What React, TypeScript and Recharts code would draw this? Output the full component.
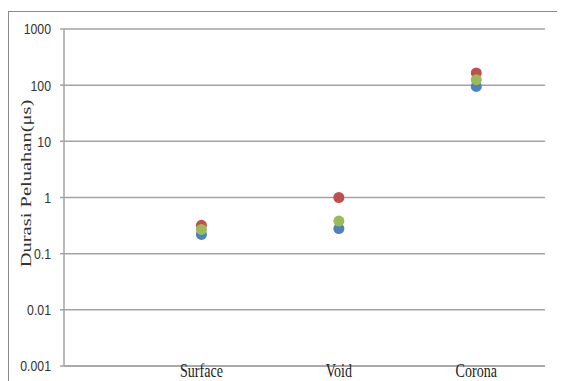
import React from 'react'
import { ScatterChart, Scatter, XAxis, YAxis, CartesianGrid } from 'recharts'

// discharge duration per defect type, three measurement series
const categories = ['Surface', 'Void', 'Corona']
const seriesBlue = [0.22, 0.28, 95]
const seriesRed = [0.32, 1.0, 165]
const seriesGreen = [0.27, 0.38, 125]
const yTicks = [0.001, 0.01, 0.1, 1, 10, 100, 1000]
const yTickLabels = ['0.001', '0.01', '0.1', '1', '10', '100', '1000']

const GRID = '#a3a3a3'
const SERIF = '"Liberation Serif", "Times New Roman", serif'
const SANS = '"Liberation Sans", Arial, sans-serif'

const toPoints = (values: number[]) => values.map((v, i) => ({ x: i + 1, y: v }))

const dot = (color: string) => (props: any) => (
  <circle cx={props.cx} cy={props.cy} r={5.5} fill={color} />
)

// text is squeezed horizontally, like the original figure
const XTick = ({ x, y, payload }: any) => (
  <text
    transform={`translate(${x},${y + 11}) scale(0.74,1)`}
    textAnchor="middle"
    fontFamily={SERIF}
    fontSize={19}
    fill="#222"
  >
    {categories[payload.value - 1]}
  </text>
)

const YTick = ({ x, y, payload }: any) => (
  <text
    transform={`translate(${x},${y}) scale(0.82,1)`}
    textAnchor="end"
    dy="0.36em"
    fontFamily={SANS}
    fontSize={15}
    fill="#333"
  >
    {yTickLabels[yTicks.indexOf(payload.value)]}
  </text>
)

const AxisTitle = ({ viewBox }: any) => (
  <text
    transform={`translate(${viewBox.x + 22},${viewBox.y + viewBox.height / 2 - 14}) scale(0.72,1) rotate(-90)`}
    textAnchor="middle"
    fontFamily={SERIF}
    fontSize={20.5}
    fill="#333"
  >
    Durasi Peluahan(μs)
  </text>
)

export default function App() {
  return (
    <div
      style={{
        marginTop: 3,
        width: 556,
        height: 369,
        borderTop: '1px solid #8a8a8a',
        borderLeft: '1px solid #8a8a8a',
        background: '#fff',
      }}
    >
      <ScatterChart width={556} height={369} margin={{ top: 17, right: 20, bottom: 0, left: 0 }}>
        <CartesianGrid vertical={false} stroke={GRID} strokeWidth={1.5} />
        <XAxis
          type="number"
          dataKey="x"
          domain={[0, 3.5]}
          ticks={[1, 2, 3]}
          height={15}
          tickLine={false}
          tickSize={0}
          tickMargin={0}
          axisLine={{ stroke: GRID, strokeWidth: 1.5 }}
          tick={<XTick />}
          interval={0}
        />
        <YAxis
          type="number"
          dataKey="y"
          scale="log"
          domain={[0.001, 1000]}
          ticks={yTicks}
          allowDataOverflow
          width={55}
          tickSize={4}
          tickMargin={9}
          tickLine={{ stroke: GRID, strokeWidth: 1.5 }}
          axisLine={{ stroke: GRID, strokeWidth: 1.5 }}
          tick={<YTick />}
          interval={0}
          label={<AxisTitle />}
        />
        <Scatter data={toPoints(seriesBlue)} fill="#4f81bd" shape={dot('#4f81bd')} isAnimationActive={false} />
        <Scatter data={toPoints(seriesRed)} fill="#c0504d" shape={dot('#c0504d')} isAnimationActive={false} />
        <Scatter data={toPoints(seriesGreen)} fill="#9bbb59" shape={dot('#9bbb59')} isAnimationActive={false} />
      </ScatterChart>
    </div>
  )
}
